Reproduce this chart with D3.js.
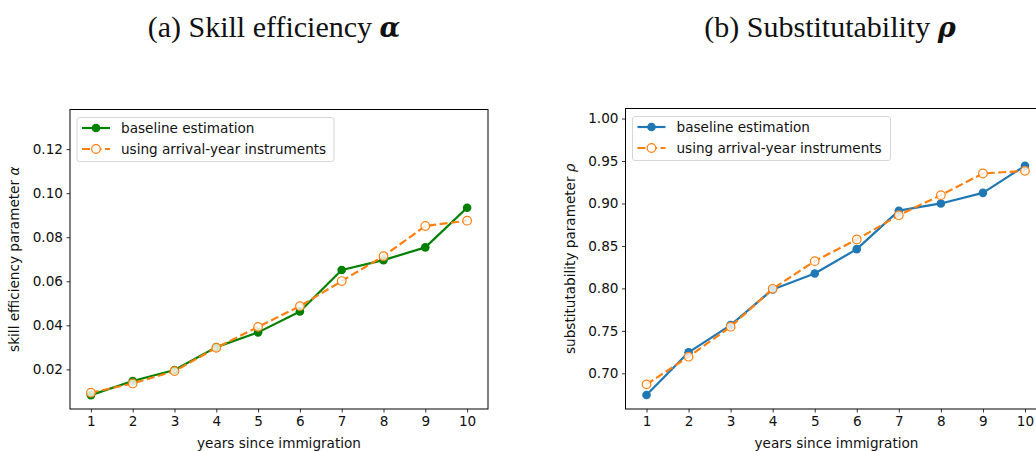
<!DOCTYPE html>
<html><head><meta charset="utf-8">
<script src="https://cdn.jsdelivr.net/npm/d3@7"></script>
<style>body{margin:0;background:#fff;overflow:hidden}</style>
</head><body>
<svg id="c" width="1036" height="451"></svg>
<script>
const years = [1,2,3,4,5,6,7,8,9,10];
const alphaBaseline = [0.0083,0.0147,0.0197,0.0301,0.0368,0.0463,0.0651,0.0696,0.0754,0.0934];
const alphaArrival  = [0.0094,0.0136,0.0192,0.0298,0.0393,0.0487,0.0601,0.0714,0.0851,0.0875];
const rhoBaseline = [0.6745,0.7247,0.7568,0.7988,0.8176,0.8462,0.8915,0.9000,0.9125,0.9443];
const rhoArrival  = [0.687,0.7196,0.7549,0.7995,0.8321,0.8576,0.8862,0.9098,0.9353,0.9384];
const alphaTicks = [0.02,0.04,0.06,0.08,0.10,0.12];
const rhoTicks = [0.70,0.75,0.80,0.85,0.90,0.95,1.00];
const legendLabels = ["baseline estimation","using arrival-year instruments"];

const svg = d3.select("#c");
const font = "DejaVu Sans, sans-serif";
const fs = "13.6px";

function panel(o){
  const g = svg.append("g");
  const x = d3.scaleLinear().domain([0.5,10.5]).range([o.left,o.left+o.width]);
  const y = d3.scaleLinear().domain(o.ydom).range([o.bottom,o.top]);
  // title
  const t = svg.append("text").attr("x",o.titleX).attr("y",37).attr("text-anchor","middle")
    .style("font-family","Liberation Serif, DejaVu Serif, serif").style("font-size","30px").attr("fill","#111");
  t.append("tspan").text(o.title+" ");
  t.append("tspan").text(o.sym).style("font-weight","bold").style("font-style","italic").style("font-family","DejaVu Serif, serif").style("font-size","27px");
  // axes
  const xa = g.append("g").attr("transform",`translate(0,${o.bottom})`)
    .call(d3.axisBottom(x).tickValues(years).tickFormat(d3.format("d")).tickSize(3.5).tickPadding(3.5));
  const ya = g.append("g").attr("transform",`translate(${o.left},0)`)
    .call(d3.axisLeft(y).tickValues(o.yticks).tickFormat(d3.format(".2f")).tickSize(3.5).tickPadding(3.5));
  [xa,ya].forEach(a=>{a.select(".domain").remove();
    a.selectAll("text").style("font-family",font).style("font-size",fs).attr("fill","#111");
    a.selectAll("line").attr("stroke","#000").attr("stroke-width",0.8);});
  // lines
  const line = d3.line().x((d,i)=>x(years[i])).y(d=>y(d));
  const clip = "clip"+o.id;
  svg.append("clipPath").attr("id",clip).append("rect").attr("x",o.left).attr("y",o.top-6).attr("width",o.width+10).attr("height",o.bottom-o.top+12);
  const pg = g.append("g").attr("clip-path",`url(#${clip})`);
  pg.append("path").datum(o.base).attr("d",line).attr("fill","none").attr("stroke",o.color).attr("stroke-width",2.2).attr("stroke-linejoin","round");
  pg.selectAll(".b").data(o.base).enter().append("circle").attr("cx",(d,i)=>x(years[i])).attr("cy",d=>y(d)).attr("r",4.3).attr("fill",o.color);
  pg.append("path").datum(o.arr).attr("d",line).attr("fill","none").attr("stroke","#ff7f0e").attr("stroke-width",2.2).attr("stroke-dasharray","8,3.5");
  pg.selectAll(".a").data(o.arr).enter().append("circle").attr("cx",(d,i)=>x(years[i])).attr("cy",d=>y(d)).attr("r",4.3).attr("fill","#fff").attr("fill-opacity",0.8).attr("stroke","#ff7f0e").attr("stroke-width",1.2);
  // frame
  g.append("rect").attr("x",o.left).attr("y",o.top).attr("width",o.width).attr("height",o.bottom-o.top).attr("fill","none").attr("stroke","#000").attr("stroke-width",1);
  // labels
  svg.append("text").attr("x",o.left+ (o.xlabelCx||o.width/2)).attr("y",448).attr("text-anchor","middle")
    .style("font-family",font).style("font-size",fs).attr("fill","#111").text("years since immigration");
  const yl = svg.append("text").attr("transform",`translate(${o.ylabX},${(o.top+o.bottom)/2}) rotate(-90)`).attr("text-anchor","middle")
    .style("font-family",font).style("font-size",fs).attr("fill","#111");
  yl.append("tspan").text(o.ylab+" ");
  yl.append("tspan").text(o.sym).style("font-style","italic");
  // legend
  const lg = g.append("g").attr("transform",`translate(${o.left+7},${o.top+8})`);
  lg.append("rect").attr("width",o.legW).attr("height",44).attr("rx",2.5).attr("fill","#fff").attr("fill-opacity",0.8).attr("stroke","#d6d6d6").attr("stroke-width",1);
  [0,1].forEach(i=>{
    const yy = 10.5 + i*21;
    const c = i==0? o.color : "#ff7f0e";
    lg.append("line").attr("x1",5).attr("x2",33).attr("y1",yy).attr("y2",yy).attr("stroke",c).attr("stroke-width",2.2)
      .attr("stroke-dasharray", i==0? null : "8,3.5");
    lg.append("circle").attr("cx",19).attr("cy",yy).attr("r",4.3).attr("fill",i==0?c:"#fff").attr("stroke",i==0?"none":c).attr("stroke-width",1.2);
    lg.append("text").attr("x",44).attr("y",yy+4.8).style("font-family",font).style("font-size",fs).attr("fill","#111").text(legendLabels[i]);
  });
}

panel({id:"a",left:70,width:418,top:109.5,bottom:409,ydom:[0.002,0.138],yticks:alphaTicks,
  base:alphaBaseline,arr:alphaArrival,color:"#008000",title:"(a) Skill efficiency",sym:"α",titleX:274,
  ylab:"skill efficiency parameter",ylabX:19,legW:257});
panel({id:"b",left:625.5,width:420.5,top:108.5,bottom:409,ydom:[0.658,1.0118],yticks:rhoTicks,
  base:rhoBaseline,arr:rhoArrival,color:"#1f77b4",title:"(b) Substitutability",sym:"ρ",titleX:830,
  ylab:"substitutability parameter",ylabX:575,legW:258,xlabelCx:211});
</script>
</body></html>
